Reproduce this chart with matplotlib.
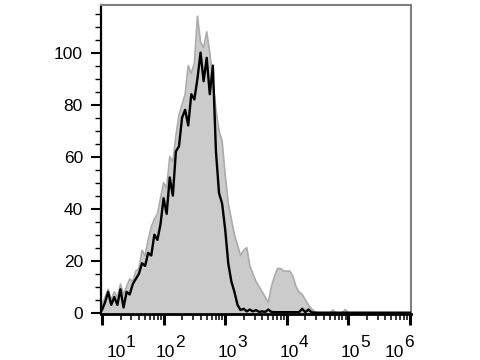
import numpy as np
import matplotlib
matplotlib.use("Agg")
import matplotlib.pyplot as plt
from matplotlib.ticker import FixedLocator, NullFormatter

plt.rcParams['font.family'] = ['Liberation Sans', 'DejaVu Sans']

# bin centres in log10(fluorescence) units
log_channel = np.round(np.arange(1.0, 6.0001, 0.05), 2)

# grey filled histogram
grey_counts = [
    3, 6, 9, 5, 8, 6, 11, 7, 10, 13,
    12, 16, 17, 24, 22, 28, 33, 36, 38, 44,
    50, 48, 60, 58, 68, 76, 80, 84, 95, 92,
    96, 114, 104, 102, 108, 100, 90, 78, 70, 66,
    53, 42, 36, 30, 26, 22, 24, 25, 18, 15,
    12, 10, 8, 6, 4, 10, 14, 17, 17, 16,
    16, 16, 14, 10, 8, 7, 5, 3, 1.5, 0.5,
    0, 0, 0, 0, 0, 1, 0, 0, 0, 1.2,
    0, 0, 0, 0, 0, 0, 0, 0, 0, 0,
    0, 0, 0, 0, 0, 0, 0, 0, 0, 0,
    0,
]

# black outline histogram
black_counts = [
    1, 4, 8, 3, 6, 3, 9, 2, 8, 7,
    11, 13, 15, 19, 18, 23, 22, 30, 28, 34,
    44, 38, 52, 45, 62, 64, 75, 78, 72, 84,
    82, 90, 100, 89, 98, 84, 95, 62, 46, 42,
    32, 19, 12, 8, 3, 1, 1.5, 0.5, 1.2, 0.5,
    1, 0.3, 0.5, 0.3, 1.2, 0.3, 0.2, 0.2, 0.2, 0.2,
    0.2, 0.2, 0.2, 0.2, 0.2, 1.5, 0.2, 1.2, 0.2, 0,
    0, 0, 0, 0, 0, 0, 0, 0, 0, 0,
    0, 0, 0, 0, 0, 0, 0, 0, 0, 0,
    0, 0, 0, 0, 0, 0, 0, 0, 0, 0,
    0,
]

y_ticks = [0, 20, 40, 60, 80, 100]
x_exponents = [1, 2, 3, 4, 5, 6]

x = 10.0 ** log_channel

fig = plt.figure(figsize=(4.8, 3.6), dpi=100)
ax = fig.add_axes([0.2104, 0.1278, 0.6458, 0.8583])

ax.fill_between(x, grey_counts, 0, color='#cbcbcb', lw=0, zorder=1)
ax.plot(x, grey_counts, color='#ababab', lw=1.2, zorder=2)
ax.plot(x, black_counts, color='black', lw=1.7, zorder=3)

ax.set_xscale('log')
ax.set_xlim(10 ** 0.984, 10 ** 6.016)
ax.set_ylim(-0.5, 118.3)

# x ticks
ax.xaxis.set_major_locator(FixedLocator([10.0 ** e for e in x_exponents]))
minors = [m * 10.0 ** e for e in x_exponents[:-1] for m in range(2, 10)]
ax.xaxis.set_minor_locator(FixedLocator(minors))
ax.xaxis.set_major_formatter(NullFormatter())
ax.xaxis.set_minor_formatter(NullFormatter())
ax.tick_params(axis='x', which='major', length=8, width=2.2, direction='out', color='black')
ax.tick_params(axis='x', which='minor', length=4, width=1.1, direction='out', color='black')

# y ticks
ax.set_yticks(y_ticks)
ax.set_yticks(np.arange(5, 118, 5), minor=True)
ax.tick_params(axis='y', which='major', length=7, width=1.5, pad=6, labelsize=12.5, direction='out')
ax.tick_params(axis='y', which='minor', length=4, width=1.0, direction='out')

for s in ['left', 'bottom']:
    ax.spines[s].set_color('black')
    ax.spines[s].set_linewidth(1.6)
ax.spines['bottom'].set_linewidth(2.0)
for s in ['top', 'right']:
    ax.spines[s].set_color('#808080')
    ax.spines[s].set_linewidth(1.5)

# x tick labels drawn as "10" plus raised exponent
shifts = {1: 10.0, 6: -11.0}
for e in x_exponents:
    dx = shifts.get(e, 1.5)
    ax.annotate('10', xy=(10.0 ** e, 0), xycoords=('data', 'axes fraction'),
                xytext=(dx, -31), textcoords='offset points',
                ha='center', va='baseline', fontsize=12.5, annotation_clip=False)
    ax.annotate(str(e), xy=(10.0 ** e, 0), xycoords=('data', 'axes fraction'),
                xytext=(dx + 7.0, -23.5), textcoords='offset points',
                ha='left', va='baseline', fontsize=12.5, annotation_clip=False)

fig.savefig('out.png', dpi=100)
